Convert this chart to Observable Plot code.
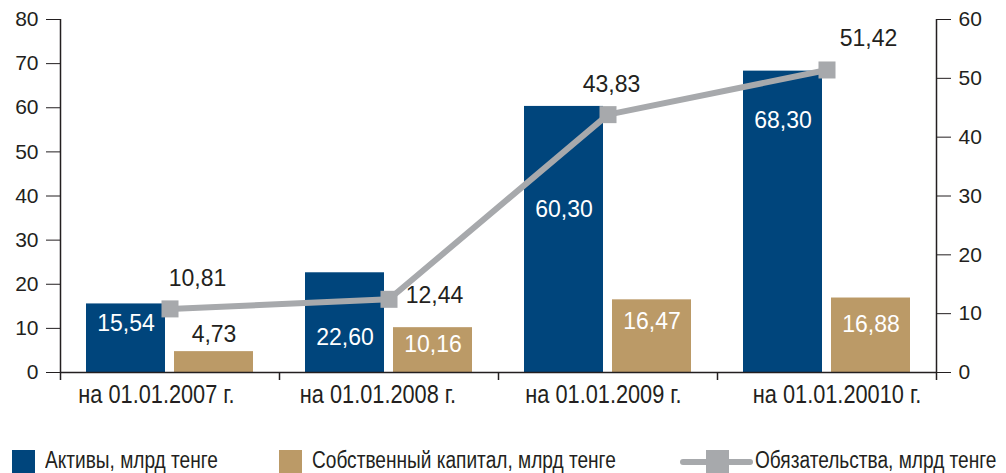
<!DOCTYPE html>
<html><head><meta charset="utf-8">
<script src="https://cdn.jsdelivr.net/npm/d3@7"></script>
<script src="https://cdn.jsdelivr.net/npm/@observablehq/plot@0.6"></script>
<style>
body{margin:0;background:#fff;}
#wrap{position:relative;width:1006px;height:473px;overflow:hidden;font-family:"Liberation Sans",Arial,sans-serif;}
.leg{position:absolute;top:449px;height:24px;line-height:23px;font-family:"Liberation Sans",Arial,sans-serif;font-size:23px;color:#231f20;white-space:nowrap;transform:scaleX(0.83);transform-origin:0 50%;}
.sw{position:absolute;width:23px;height:23px;top:450px;}
</style></head><body><div id="wrap"><div id="chart"></div></div>
<script>
// ---- data ----
const categories = ["на 01.01.2007 г.", "на 01.01.2008 г.", "на 01.01.2009 г.", "на 01.01.20010 г."];
const assets = [15.54, 22.60, 60.30, 68.30];
const equity = [4.73, 10.16, 16.47, 16.88];
const liabilities = [10.81, 12.44, 43.83, 51.42];
const leftTicks = [0, 10, 20, 30, 40, 50, 60, 70, 80];
const rightTicks = [0, 10, 20, 30, 40, 50, 60];
const seriesNames = ["Активы, млрд тенге", "Собственный капитал, млрд тенге", "Обязательства, млрд тенге"];

// ---- style / layout ----
const colors = {assets: "#00457c", equity: "#bb9a67", liab: "#a7a9ac", text: "#231f20"};
const assetLabelDy = [20, 64.5, 103, 49];
const equityLabelDy = [-17, 16.5, 21.5, 27];
const equityLabelFill = [colors.text, "#fff", "#fff", "#fff"];
const liabLabelOffset = [[27.5, -30], [45.5, -4], [3.5, -30], [41.5, -31]];
const catLabelDx = [-13.5, -11, -4.5, 10];

const W = 1006, H = 440, mL = 60, mR = 70, mT = 19, mB = 68;
const bw = (W - mL - mR) / categories.length;
const outer = 26, barW = 79, gap = 9;
const k = 80 / 60; // right axis -> left axis units
const fmt = v => v.toFixed(2).replace(".", ",");

const rows = categories.map((c, i) => ({cat: c, assets: assets[i], equity: equity[i], liab: liabilities[i]}));
const assetDx = -bw / 2 + outer + barW / 2;
const equityDx = -bw / 2 + outer + barW + gap + barW / 2;

const marks = [
  Plot.barY(rows, {x: "cat", y: "assets", fill: colors.assets, insetLeft: outer, insetRight: bw - outer - barW}),
  Plot.barY(rows, {x: "cat", y: "equity", fill: colors.equity, insetLeft: outer + barW + gap, insetRight: outer}),
  Plot.ruleY([0], {stroke: colors.text, strokeWidth: 1.5}),
  Plot.ruleX([categories[0]], {dx: -bw / 2, y1: 80, y2: 0, insetBottom: -8, stroke: colors.text, strokeWidth: 1.5}),
  Plot.ruleX([categories[categories.length - 1]], {dx: bw / 2, y1: 80, y2: 0, insetBottom: -8, stroke: colors.text, strokeWidth: 1.5}),
  Plot.ruleX(categories.slice(1), {dx: -bw / 2, y1: 0, y2: 0, insetBottom: -8, stroke: colors.text, strokeWidth: 1.5}),
  Plot.line(rows, {x: "cat", y: d => d.liab * k, stroke: colors.liab, strokeWidth: 6}),
  Plot.dot(rows, {x: "cat", y: d => d.liab * k, symbol: "square", r: 9.6, fill: colors.liab, stroke: "none"}),
  Plot.axisY(leftTicks, {anchor: "left", tickSize: 14, tickPadding: 8, fontSize: 21, label: null, color: colors.text}),
  Plot.axisY(rightTicks.map(v => v * k), {anchor: "right", tickSize: 14, tickPadding: 8, fontSize: 21, label: null, color: colors.text, tickFormat: d => String(Math.round(d / k))})
];
rows.forEach((r, i) => {
  marks.push(Plot.text([r], {x: "cat", y: "assets", text: d => fmt(d.assets), dx: assetDx, dy: assetLabelDy[i], fill: "#fff", fontSize: 23}));
  marks.push(Plot.text([r], {x: "cat", y: "equity", text: d => fmt(d.equity), dx: equityDx, dy: equityLabelDy[i], fill: equityLabelFill[i], fontSize: 23}));
  marks.push(Plot.text([r], {x: "cat", y: d => d.liab * k, text: d => fmt(d.liab), dx: liabLabelOffset[i][0], dy: liabLabelOffset[i][1], fill: colors.text, fontSize: 23}));
  marks.push(Plot.text([r], {x: "cat", y: 0, text: "cat", lineAnchor: "top", dx: catLabelDx[i], dy: 13, fill: colors.text, fontSize: 25}));
});

const chart = Plot.plot({
  width: W, height: H,
  marginTop: mT, marginBottom: mB, marginLeft: mL, marginRight: mR,
  style: {fontFamily: '"Liberation Sans", Arial, sans-serif', background: "#fff", color: colors.text},
  x: {type: "band", domain: categories, padding: 0, axis: null},
  y: {domain: [0, 80], axis: null},
  marks
});
// condense the category labels horizontally (no condensed font installed)
d3.select(chart).selectAll('g[font-size="25"] text').each(function () {
  const t = d3.select(this);
  const x = +(t.attr("x") || 0);
  const tr = t.attr("transform") || "";
  t.attr("transform", `${tr} translate(${x},0) scale(0.87,1) translate(${-x},0)`);
});
const wrap = document.getElementById("wrap");
document.getElementById("chart").appendChild(chart);

// ---- legend ----
function el(cls, style, text) {
  const d = document.createElement("div");
  if (cls) d.className = cls;
  Object.assign(d.style, style);
  if (text) d.textContent = text;
  wrap.appendChild(d);
  return d;
}
el("sw", {left: "12px", background: colors.assets});
el("leg", {left: "45px"}, seriesNames[0]);
el("sw", {left: "279px", background: colors.equity});
el("leg", {left: "312px"}, seriesNames[1]);
el(null, {position: "absolute", left: "680px", top: "459px", width: "73px", height: "6px", background: colors.liab, borderRadius: "3px"});
el("sw", {left: "706px", background: colors.liab});
el("leg", {left: "755px"}, seriesNames[2]);
</script>
</body></html>
